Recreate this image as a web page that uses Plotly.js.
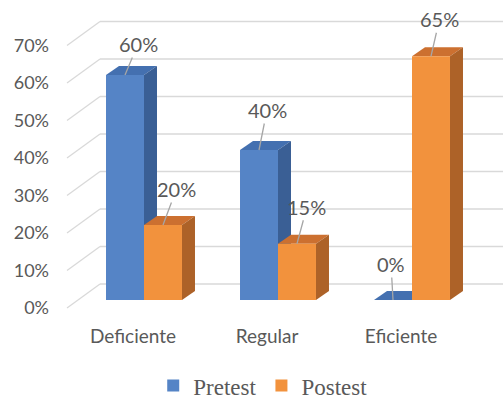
<!DOCTYPE html>
<html>
<head>
<meta charset="utf-8">
<script src="https://cdn.plot.ly/plotly-3.0.1.min.js"></script>
<style>html,body{margin:0;padding:0;background:#fff;}#chart{width:503px;height:400px;}</style>
</head>
<body>
<div id="chart"></div>
<script>
// ---- data ----
const categories = ["Deficiente", "Regular", "Eficiente"];
const seriesNames = ["Pretest", "Postest"];
const pretest = [60, 40, 0];
const postest = [20, 15, 65];
const yTicks = [0, 10, 20, 30, 40, 50, 60, 70];
const yTickText = yTicks.map(v => v + "%");

// ---- style ----
const frontColors = ["#5584c6", "#f2923d"];
const topColors = ["#4470b0", "#cc7030"];
const sideColors = ["#3a5f95", "#ad6228"];
const textColor = "#595959";
const gridColor = "#d9d9d9";
const bargap = 0.433;
const barW = (1 - bargap) / 2;
const depthX = 0.097;   // bar depth in category units
const depthY = 2.4;     // bar depth in value units
const backOff = 4.27;   // back wall offset (value units)
const frontOff = -2.13; // floor front edge offset (value units)
const wallLeft = 0.0572, edgeLeft = -0.0249, wallRight = 1.06;
// label leader offsets in pixels, [category][series]
const labelAx = [[13, 13.5], [8, 10], [-2, 8.5]];
const labelAy = [[-31, -36], [-40, -37], [-36, -37]];

const series = [pretest, postest];
const xs = categories.map((c, i) => i);

const traces = series.map((vals, s) => ({
  type: "bar",
  name: seriesNames[s],
  x: xs,
  y: vals,
  marker: {color: frontColors[s], line: {width: 0}},
  hoverinfo: "skip"
}));

const shapes = [];
yTicks.forEach(v => {
  shapes.push({type: "line", layer: "below", xref: "paper", yref: "y",
    x0: wallLeft, x1: wallRight, y0: v + backOff, y1: v + backOff,
    line: {color: gridColor, width: 1.3}});
  shapes.push({type: "line", layer: "below", xref: "paper", yref: "y",
    x0: edgeLeft, x1: wallLeft, y0: v + frontOff, y1: v + backOff,
    line: {color: gridColor, width: 1.3}});
});
categories.forEach((c, i) => {
  series.forEach((vals, s) => {
    const v = vals[i];
    const x0 = i + (s === 0 ? -barW : 0);
    const x1 = x0 + barW;
    shapes.push({type: "path", layer: "below", xref: "x", yref: "y",
      path: `M${x0},${v} L${x1},${v} L${x1 + depthX},${v + depthY} L${x0 + depthX},${v + depthY} Z`,
      fillcolor: topColors[s], line: {width: 0}});
    if (v > 0) {
      shapes.push({type: "path", layer: "below", xref: "x", yref: "y",
        path: `M${x1},0 L${x1},${v} L${x1 + depthX},${v + depthY} L${x1 + depthX},${depthY} Z`,
        fillcolor: sideColors[s], line: {width: 0}});
    }
  });
});

const annotations = [];
categories.forEach((c, i) => {
  series.forEach((vals, s) => {
    const v = vals[i];
    annotations.push({
      x: i + (s === 0 ? -barW / 2 : barW / 2), y: v, xref: "x", yref: "y",
      text: v + "%", showarrow: true, arrowhead: 0, arrowwidth: 1.3,
      arrowcolor: "#a6a6a6", ax: labelAx[i][s], ay: labelAy[i][s], standoff: 0,
      font: {family: "Lato, sans-serif", size: 20, color: textColor}
    });
  });
});

const layout = {
  width: 503, height: 400,
  margin: {l: 77, r: 24, t: 10, b: 88},
  paper_bgcolor: "#ffffff",
  plot_bgcolor: "rgba(0,0,0,0)",
  barmode: "group", bargap: bargap, bargroupgap: 0,
  showlegend: true,
  legend: {orientation: "h", x: 0.462, xanchor: "center", yref: "container", y: 0.036, yanchor: "middle",
    font: {family: "Liberation Serif, Times New Roman, serif", size: 23, color: textColor}},
  xaxis: {range: [-0.5, 2.5], tickvals: xs, ticktext: categories, showgrid: false, automargin: false,
    zeroline: false, showline: false, ticks: "", ticklabelshift: -11, ticklabelstandoff: 11,
    tickfont: {family: "Lato, sans-serif", size: 19, color: textColor}, fixedrange: true},
  yaxis: {range: [-3.2, 77.333], tickvals: yTicks, ticktext: yTickText, showgrid: false, automargin: false,
    zeroline: false, showline: false, ticks: "", ticklabelshift: 8, ticklabelstandoff: 27,
    tickfont: {family: "Lato, sans-serif", size: 18, color: textColor}, fixedrange: true},
  shapes: shapes,
  annotations: annotations
};

Plotly.newPlot("chart", traces, layout, {displayModeBar: false, staticPlot: true});
</script>
</body>
</html>
